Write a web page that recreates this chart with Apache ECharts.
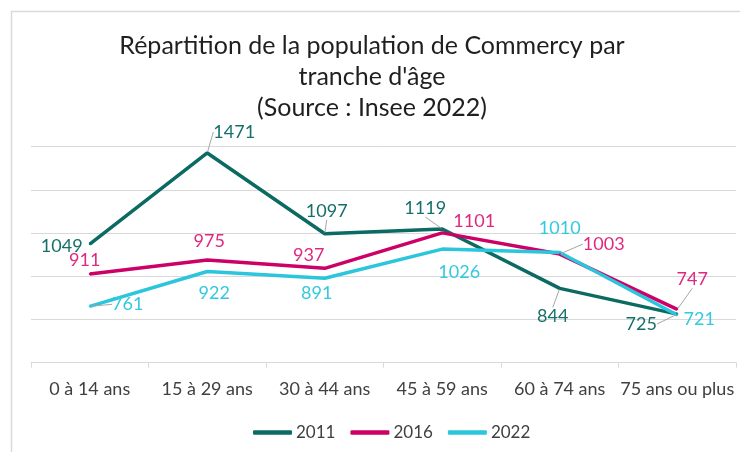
<!DOCTYPE html>
<html>
<head>
<meta charset="utf-8">
<script src="https://cdn.jsdelivr.net/npm/echarts@6/dist/echarts.min.js"></script>
<style>html,body{margin:0;padding:0;background:#fff;}#c{width:740px;height:452px;}</style>
</head>
<body>
<div id="c"></div>
<script>
const categories = ['0 à 14 ans', '15 à 29 ans', '30 à 44 ans', '45 à 59 ans', '60 à 74 ans', '75 ans ou plus'];
const years = ['2011', '2016', '2022'];
const pop2011 = [1049, 1471, 1097, 1119, 844, 725];
const pop2016 = [911, 975, 937, 1101, 1003, 747];
const pop2022 = [761, 922, 891, 1026, 1010, 721];
const titleText = 'Répartition de la population de Commercy par\ntranche d\'âge\n(Source : Insee 2022)';

// label placement (offsets from point, in px) and leader-line flags
const labelOffsets = [
  [[-28, 2], [27, -21], [2, -23], [-17, -21], [-7, 28], [-36, 10]],
  [[-5, -14], [2, -19], [-16, -13], [32, -12], [44, -10], [15, -30]],
  [[38, -2], [7, 22], [-8, 15], [17, 23], [0, -24], [22, 4]]
];
const leaders = [
  [false, true, true, true, true, true],
  [false, false, false, false, true, true],
  [true, false, false, false, false, false]
];
const lineColors = ['#0b6a62', '#cc0066', '#2bc5dc'];
const labelColors = ['#16706a', '#e0287f', '#33c9df'];
const FONT = 'Lato, "Open Sans", sans-serif';

const values = [pop2011, pop2016, pop2022];
const series = values.map((arr, s) => ({
  name: years[s],
  type: 'line',
  data: arr.map((v, i) => ({ value: v, labelLine: { show: leaders[s][i] } })),
  symbol: 'circle',
  symbolSize: 2,
  showSymbol: true,
  color: lineColors[s],
  lineStyle: { width: 3.5, color: lineColors[s] },
  itemStyle: { color: lineColors[s] },
  label: {
    show: true,
    position: 'inside',
    color: labelColors[s],
    fontFamily: FONT,
    fontSize: 18
  },
  labelLine: { show: false, lineStyle: { color: '#a6a6a6', width: 1 } },
  labelLayout: function (p) {
    const o = labelOffsets[p.seriesIndex][p.dataIndex];
    return { dx: o[0], dy: o[1] };
  },
  emphasis: { disabled: true },
  animation: false
}));

const chart = echarts.init(document.getElementById('c'), null, { renderer: 'canvas' });
chart.setOption({
  animation: false,
  backgroundColor: '#ffffff',
  title: {
    text: titleText,
    left: 372,
    top: 30,
    textAlign: 'center',
    padding: 0,
    textStyle: { fontFamily: FONT, fontSize: 25, fontWeight: 'normal', color: '#1f1f1f', lineHeight: 31 }
  },
  graphic: [{
    type: 'rect', left: 9, top: 9, z: -1,
    shape: { width: 760, height: 470 },
    style: { fill: 'none', stroke: '#d9d9d9', lineWidth: 1.5 }
  }],
  legend: {
    data: years,
    left: 248,
    top: 419,
    icon: 'roundRect',
    itemWidth: 39,
    itemHeight: 4.5,
    itemGap: 15,
    textStyle: { fontFamily: FONT, fontSize: 17, color: '#404040', padding: [0, 0, 0, -1] }
  },
  grid: { left: 31, right: 4, top: 146.7, bottom: 89.3, containLabel: false },
  xAxis: {
    type: 'category',
    data: categories,
    boundaryGap: true,
    axisLine: { lineStyle: { color: '#d9d9d9', width: 1 } },
    axisTick: { show: true, length: 5, lineStyle: { color: '#d9d9d9' } },
    axisLabel: { fontFamily: FONT, fontSize: 18, color: '#404040', margin: 17, interval: 0 }
  },
  yAxis: {
    type: 'value',
    min: 500,
    max: 1500,
    interval: 200,
    axisLabel: { show: false },
    axisLine: { show: false },
    axisTick: { show: false },
    splitLine: { lineStyle: { color: '#d9d9d9', width: 1 } }
  },
  series: series
});
</script>
</body>
</html>
